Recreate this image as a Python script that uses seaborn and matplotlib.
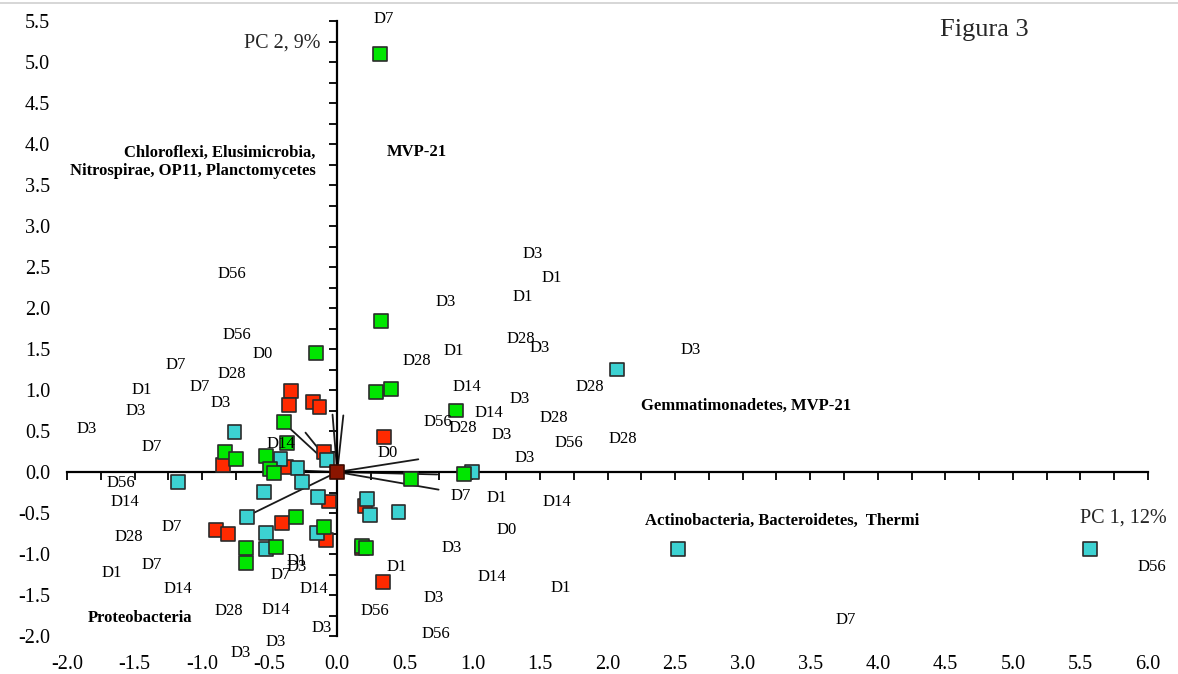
import numpy as np
import pandas as pd
import matplotlib
matplotlib.use("Agg")
import matplotlib.pyplot as plt
import seaborn as sns
from matplotlib.lines import Line2D

# --- sample scores (PC1, PC2) by group ---
red_x = [-0.343, -0.355, -0.18, -0.131, -0.101, 0.348, -0.845, -0.377, -0.059,
         -0.897, -0.808, -0.409, -0.084, 0.207, 0.338, 0.18]
red_y = [0.99, 0.817, 0.857, 0.79, 0.248, 0.43, 0.09, 0.065, -0.36,
         -0.707, -0.756, -0.618, -0.83, -0.42, -1.345, -0.93]

cyan_x = [-0.76, -0.42, -0.294, -0.261, -0.076, -0.545, -0.668, -0.525, -0.525,
          -0.143, -0.15, 0.22, 0.244, 0.453, -1.176, 2.07, 2.52, 5.57, 1.0]
cyan_y = [0.484, 0.158, 0.045, -0.118, 0.146, -0.24, -0.552, -0.74, -0.943,
          -0.30, -0.74, -0.333, -0.528, -0.484, -0.12, 1.25, -0.94, -0.935, 0.0]

green_x = [0.315, 0.325, -0.16, 0.29, 0.397, 0.878, 0.94, 0.547, 0.18, 0.21,
           -0.096, -0.305, -0.453, -0.673, -0.673, -0.397, -0.372, -0.828,
           -0.747, -0.53, -0.50, -0.47]
green_y = [5.10, 1.84, 1.45, 0.98, 1.01, 0.75, -0.02, -0.08, -0.90, -0.93,
           -0.667, -0.545, -0.918, -0.93, -1.106, 0.61, 0.35, 0.244,
           0.155, 0.195, 0.04, -0.01]

# --- loading vectors (end points, drawn from the origin) ---
vec_x = [-0.35, -0.235, -0.035, 0.0, 0.045, 0.60, 0.75, 0.74, -0.62, -0.32]
vec_y = [0.53, 0.48, 0.70, 0.62, 0.69, 0.155, -0.215, -0.03, -0.50, 0.02]

# --- sampling-day labels ---
day_names = ["D7", "D56", "D56", "D0", "D7", "D28", "D1", "D7", "D3", "D3",
             "D3", "D7", "D14", "D0", "D56", "D14", "D7", "D28", "D7", "D1",
             "D14", "D28", "D14", "D3", "D3", "D1", "D3", "D7", "D14", "D3",
             "D3", "D1", "D1", "D3", "D28", "D3", "D3", "D1", "D28", "D14",
             "D28", "D3", "D14", "D28", "D56", "D28", "D3", "D56", "D28", "D3",
             "D7", "D1", "D14", "D0", "D3", "D1", "D14", "D1", "D3", "D56",
             "D56", "D7", "D56"]
day_x = [0.345, -0.779, -0.742, -0.55, -1.198, -0.779, -1.445, -1.021, -1.494, -0.865,
         -1.857, -1.37, -0.42, 0.372, -1.60, -1.575, -1.223, -1.543, -1.37, -1.667,
         -1.178, -0.804, -0.451, -0.459, -0.712, -0.298, -0.303, -0.42, -0.175, -0.113,
         1.445, 1.588, 1.37, 0.804, 1.359, 1.50, 2.616, 0.86, 0.589, 0.959,
         1.866, 1.349, 1.124, 1.605, 0.742, 0.93, 1.213, 1.711, 2.11, 1.39,
         0.917, 1.181, 1.625, 1.25, 0.848, 0.441, 1.144, 1.655, 0.717, 0.276,
         0.732, 3.76, 6.03]
day_y = [5.53, 2.42, 1.67, 1.44, 1.30, 1.195, 1.00, 1.033, 0.748, 0.845,
         0.524, 0.30, 0.34, 0.235, -0.138, -0.362, -0.667, -0.797, -1.134, -1.236,
         -1.427, -1.69, -1.683, -2.077, -2.21, -1.08, -1.16, -1.256, -1.427, -1.90,
         2.66, 2.37, 2.14, 2.077, 1.618, 1.508, 1.488, 1.475, 1.354, 1.04,
         1.04, 0.886, 0.724, 0.655, 0.614, 0.533, 0.451, 0.357, 0.40, 0.174,
         -0.293, -0.321, -0.362, -0.707, -0.93, -1.163, -1.285, -1.41, -1.54, -1.695,
         -1.98, -1.805, -1.155]

# --- phylum labels ---
phyla = ["Chloroflexi, Elusimicrobia,\nNitrospirae, OP11, Planctomycetes",
         "MVP-21", "Gemmatimonadetes, MVP-21",
         "Actinobacteria, Bacteroidetes,  Thermi", "Proteobacteria"]
phyla_x = [-0.16, 0.37, 2.246, 2.28, -1.462]
phyla_y = [3.78, 3.906, 0.805, -0.60, -1.784]
phyla_ha = ["right", "left", "left", "left", "center"]

x_ticks = np.arange(-2.0, 6.01, 0.5)
y_ticks = np.arange(-2.0, 5.51, 0.5)

sns.set_theme(style="white")
plt.rcParams["font.family"] = ["Liberation Serif", "DejaVu Serif"]

fig = plt.figure(figsize=(11.78, 6.74), dpi=100)
W, H = 1178, 674
ax = fig.add_axes([67 / W, 1 - 636 / H, (1148 - 67) / W, (636 - 21) / H])
ax.set_xlim(-2.0, 6.0)
ax.set_ylim(-2.0, 5.5)
ax.patch.set_visible(False)

# axes crossing at the origin
for side in ("top", "right"):
    ax.spines[side].set_visible(False)
for side in ("left", "bottom"):
    ax.spines[side].set_position(("data", 0))
    ax.spines[side].set_color("black")
    ax.spines[side].set_linewidth(1.6)
ax.set_xticks(np.arange(-2.0, 6.01, 0.25))
ax.set_yticks(np.arange(-2.0, 5.51, 0.25))
ax.tick_params(axis="both", direction="out", length=5.5, width=1.3, color="black",
               labelbottom=False, labelleft=False, bottom=True, left=True)
ax.grid(False)

# tick labels along the outer edges
secx = ax.secondary_xaxis("bottom")
secx.set_xticks(x_ticks)
secx.set_xticklabels([f"{v:.1f}" for v in x_ticks])
secx.spines["bottom"].set_visible(False)
secx.tick_params(length=0, pad=13.5, labelsize=14.5, colors="black")
secy = ax.secondary_yaxis("left")
secy.set_yticks(y_ticks)
secy.set_yticklabels([f"{v:.1f}" for v in y_ticks])
secy.spines["left"].set_visible(False)
secy.tick_params(length=0, pad=12, labelsize=14.5, colors="black")

# loading vectors
for vx, vy in zip(vec_x, vec_y):
    ax.plot([0, vx], [0, vy], color="#1a1a1a", lw=1.3, zorder=2)

# sample scores
df = pd.DataFrame({
    "pc1": red_x + cyan_x + green_x,
    "pc2": red_y + cyan_y + green_y,
    "grupo": ["r"] * len(red_x) + ["c"] * len(cyan_x) + ["g"] * len(green_x),
})
sns.scatterplot(data=df, x="pc1", y="pc2", hue="grupo",
                palette={"r": "#FF2A00", "c": "#3CD2D2", "g": "#00E600"},
                marker="s", s=100, edgecolor="#2b2b2b", linewidth=1.2,
                legend=False, ax=ax, zorder=3, clip_on=False)
ax.scatter([0], [0], marker="s", s=100, color="#8B1500", edgecolor="#3a0a00",
           linewidth=1.2, zorder=4)
ax.set_xlabel("")
ax.set_ylabel("")

# day labels
for name, tx, ty in zip(day_names, day_x, day_y):
    ax.text(tx, ty, name, ha="center", va="center", fontsize=12,
            color="black", zorder=5, clip_on=False)

# phylum labels
for name, tx, ty, ha in zip(phyla, phyla_x, phyla_y, phyla_ha):
    ax.text(tx, ty, name, ha=ha, va="center", fontsize=12, fontweight="bold",
            multialignment="right", linespacing=1.15, color="black",
            zorder=5, clip_on=False)

# axis titles
ax.text(5.50, -0.56, "PC 1, 12%", ha="left", va="center", fontsize=14.5, clip_on=False)
ax.text(-0.123, 5.227, "PC 2, 9%", ha="right", va="center", fontsize=14.5, clip_on=False)
ax.text(4.79, 5.39, "Figura 3", ha="center", va="center", fontsize=19, clip_on=False)

fig.add_artist(Line2D([0, 1], [1 - 3 / H, 1 - 3 / H], color="#cfcfcf", lw=1.2))

fig.savefig("out.png", dpi=100, facecolor="white")
